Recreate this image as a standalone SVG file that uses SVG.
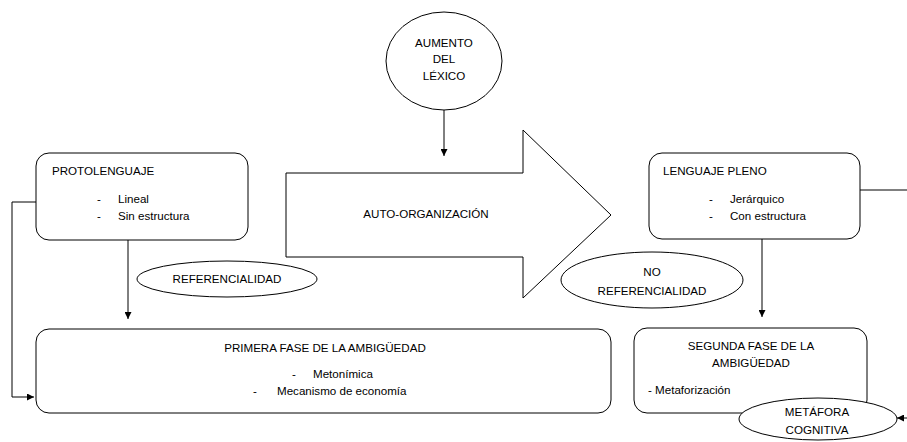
<svg xmlns="http://www.w3.org/2000/svg" width="907" height="442" viewBox="0 0 907 442">
<style>
.s{fill:#fff;stroke:#000;stroke-width:1}
.c{fill:none;stroke:#000;stroke-width:1}
text{font-family:"Liberation Sans",Arial,sans-serif;font-size:11.6px;fill:#000}
.m{text-anchor:middle}
</style>
<defs>
<marker id="ah" viewBox="0 0 10 10" refX="10" refY="5" markerWidth="7" markerHeight="7" markerUnits="userSpaceOnUse" orient="auto">
<path d="M0,0 L10,5 L0,10 z" fill="#000"/>
</marker>
</defs>
<g id="connectors">
<line class="c" x1="444" y1="110" x2="444" y2="156" marker-end="url(#ah)"/>
<polyline class="c" points="36,202 12,202 12,397 34,397" marker-end="url(#ah)"/>
<line class="c" x1="128" y1="240" x2="128" y2="319" marker-end="url(#ah)"/>
<line class="c" x1="762" y1="239" x2="762" y2="317" marker-end="url(#ah)"/>
<polyline class="c" points="860,190 915,190 915,418 897,418" marker-end="url(#ah)"/>
</g>
<g id="aumento">
<ellipse class="s" cx="444" cy="61" rx="58" ry="49"/>
<text class="m" x="444" y="47">AUMENTO</text>
<text class="m" x="444" y="63">DEL</text>
<text class="m" x="444" y="80">LÉXICO</text>
</g>
<g id="autoorg">
<polygon class="s" points="286,173 523,173 523,130 611,215 523,298 523,257 286,257"/>
<text class="m" x="426" y="218">AUTO-ORGANIZACIÓN</text>
</g>
<g id="protolenguaje">
<rect class="s" x="36" y="153" width="212" height="87" rx="13"/>
<text x="52" y="175">PROTOLENGUAJE</text>
<text x="97" y="203">-</text>
<text x="118" y="203">Lineal</text>
<text x="97" y="220">-</text>
<text x="118" y="220">Sin estructura</text>
</g>
<g id="lenguajepleno">
<rect class="s" x="649" y="153" width="211" height="86" rx="13"/>
<text x="663" y="175">LENGUAJE PLENO</text>
<text x="709" y="203">-</text>
<text x="730" y="203">Jerárquico</text>
<text x="709" y="220">-</text>
<text x="730" y="220">Con estructura</text>
</g>
<g id="referencialidad">
<ellipse class="s" cx="227" cy="279" rx="90" ry="18"/>
<text class="m" x="227" y="283">REFERENCIALIDAD</text>
</g>
<g id="noreferencialidad">
<ellipse class="s" cx="652" cy="280" rx="91" ry="28"/>
<text class="m" x="652" y="276">NO</text>
<text class="m" x="652" y="295">REFERENCIALIDAD</text>
</g>
<g id="primerafase">
<rect class="s" x="36" y="329" width="575" height="84" rx="13"/>
<text class="m" x="325" y="352">PRIMERA FASE DE LA AMBIGÜEDAD</text>
<text x="292" y="378">-</text>
<text x="313" y="378">Metonímica</text>
<text x="253" y="395">-</text>
<text x="277" y="395">Mecanismo de economía</text>
</g>
<g id="segundafase">
<rect class="s" x="634" y="328" width="233" height="85" rx="13"/>
<text class="m" x="751" y="350">SEGUNDA FASE DE LA</text>
<text class="m" x="751" y="367">AMBIGÜEDAD</text>
<text x="648" y="394">- Metaforización</text>
</g>
<g id="metafora">
<ellipse class="s" cx="818" cy="419" rx="79" ry="21"/>
<text class="m" x="817" y="416">METÁFORA</text>
<text class="m" x="817" y="434">COGNITIVA</text>
</g>
</svg>
